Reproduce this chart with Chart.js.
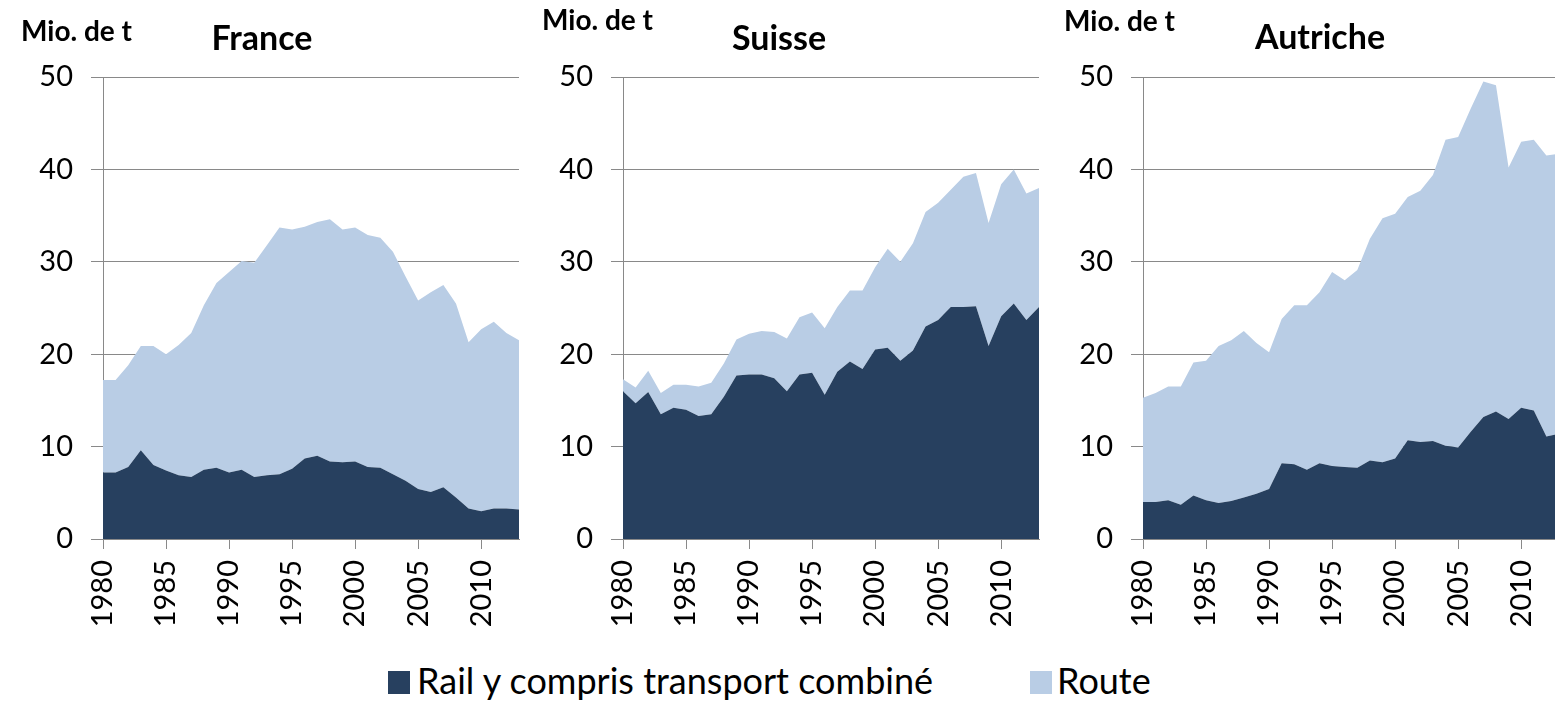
<!DOCTYPE html>
<html>
<head>
<meta charset="utf-8">
<script src="https://cdn.jsdelivr.net/npm/chart.js@4.4.1/dist/chart.umd.min.js"></script>
<style>
  body { margin: 0; width: 1555px; height: 702px; overflow: hidden; background: #fff; font-family: Lato, "Open Sans", sans-serif; position: relative; }
  .box { position: absolute; top: 0; width: 530px; height: 650px; }
  .unit, .title { position: absolute; font-weight: bold; color: #000; white-space: nowrap; }
  .unit { font-size: 28px; }
  .title { font-size: 34px; transform: translateX(-50%); }
  .legend { position: absolute; top: 658px; font-size: 36px; color: #000; white-space: nowrap; }
  .sw { position: absolute; width: 22px; height: 23px; }
</style>
</head>
<body>
<div class="box" style="left:0px"><canvas id="franceChart"></canvas></div>
<div class="box" style="left:520px"><canvas id="suisseChart"></canvas></div>
<div class="box" style="left:1040px"><canvas id="autricheChart"></canvas></div>

<div class="unit" style="left:21px; top:13px">Mio. de t</div>
<div class="title" style="left:262px; top:16px">France</div>
<div class="unit" style="left:542px; top:2px">Mio. de t</div>
<div class="title" style="left:779px; top:16px">Suisse</div>
<div class="unit" style="left:1064px; top:3px">Mio. de t</div>
<div class="title" style="left:1320px; top:15px">Autriche</div>

<div class="sw" style="left:388px; top:671px; background:#27405f"></div>
<div class="legend" style="left:417px">Rail y compris transport combiné</div>
<div class="sw" style="left:1030px; top:671px; background:#b9cde5"></div>
<div class="legend" style="left:1057px">Route</div>

<script>
const years = ['1980','1981','1982','1983','1984','1985','1986','1987','1988','1989',
  '1990','1991','1992','1993','1994','1995','1996','1997','1998','1999',
  '2000','2001','2002','2003','2004','2005','2006','2007','2008','2009',
  '2010','2011','2012','2013'];
const yTicks = [0, 10, 20, 30, 40, 50];

// France
const franceRail = [7.2,7.2,7.8,9.6,8.0,7.4,6.9,6.7,7.5,7.7,7.2,7.5,6.7,6.9,7.0,7.6,8.7,9.0,8.4,8.3,
  8.4,7.8,7.7,7.0,6.3,5.4,5.1,5.6,4.5,3.3,3.0,3.3,3.3,3.2];
const franceRoute = [10.0,10.0,11.0,11.3,12.9,12.6,14.1,15.6,17.8,20.0,21.7,22.6,23.2,24.9,26.7,25.9,25.1,25.3,26.2,25.2,
  25.3,25.1,24.9,24.1,22.1,20.4,21.6,21.9,21.0,18.0,19.7,20.2,19.0,18.3];

// Suisse
const suisseRail = [16.0,14.7,15.9,13.5,14.2,14.0,13.3,13.5,15.4,17.7,17.8,17.8,17.4,16.0,17.8,18.0,15.6,18.1,19.2,18.4,
  20.5,20.7,19.3,20.4,23.0,23.7,25.1,25.1,25.2,20.9,24.1,25.5,23.7,25.1];
const suisseRoute = [1.3,1.7,2.3,2.3,2.5,2.7,3.2,3.4,3.6,3.9,4.4,4.7,5.0,5.7,6.2,6.5,7.2,7.0,7.7,8.5,
  8.9,10.7,10.7,11.6,12.4,12.7,12.7,14.1,14.4,13.3,14.3,14.5,13.7,12.9];

// Autriche
const autricheRail = [4.0,4.0,4.2,3.7,4.7,4.2,3.9,4.1,4.5,4.9,5.4,8.2,8.1,7.5,8.2,7.9,7.8,7.7,8.5,8.3,
  8.7,10.7,10.5,10.6,10.1,9.9,11.6,13.2,13.8,13.0,14.2,13.9,11.1,11.4];
const autricheRoute = [11.3,11.8,12.3,12.8,14.4,15.1,17.0,17.4,18.0,16.3,14.8,15.6,17.2,17.8,18.5,21.0,20.2,21.4,24.0,26.4,
  26.5,26.3,27.2,28.8,33.1,33.6,35.0,36.3,35.3,27.2,28.8,29.3,30.4,30.3];

const railColor = '#27405f';
const routeColor = '#b9cde5';
const axisGray = '#898989';

Chart.defaults.font.family = 'Lato, "Open Sans", sans-serif';
Chart.defaults.color = '#000';

function makeChart(id, rail, route) {
  new Chart(document.getElementById(id), {
    type: 'line',
    data: {
      labels: years,
      datasets: [{
        label: 'Rail y compris transport combiné',
        data: rail,
        backgroundColor: railColor,
        borderWidth: 0,
        pointRadius: 0,
        fill: 'origin',
        tension: 0
      }, {
        label: 'Route',
        data: route,
        backgroundColor: routeColor,
        borderWidth: 0,
        pointRadius: 0,
        fill: '-1',
        tension: 0
      }]
    },
    options: {
      responsive: true,
      maintainAspectRatio: false,
      animation: false,
      layout: { padding: { top: 77, right: 11, left: 0, bottom: 0 } },
      plugins: { legend: { display: false }, tooltip: { enabled: false } },
      scales: {
        x: {
          offset: false,
          afterFit: (scale) => { scale.height = 111; },
          grid: { drawOnChartArea: false, drawTicks: true, tickLength: 10, color: axisGray },
          border: { color: axisGray, width: 1 },
          ticks: {
            autoSkip: false,
            minRotation: 90,
            maxRotation: 90,
            padding: 11,
            font: { size: 29 },
            callback: function (val) {
              const y = this.getLabelForValue(val);
              return Number(y) % 5 === 0 ? y : null;
            }
          }
        },
        y: {
          stacked: true,
          min: 0,
          max: 50,
          afterFit: (scale) => { scale.width = 103; },
          afterBuildTicks: (scale) => { scale.ticks = yTicks.map(v => ({ value: v })); },
          grid: { color: axisGray, tickLength: 12, lineWidth: 1 },
          border: { color: axisGray, width: 1 },
          ticks: { padding: 18, font: { size: 29 } }
        }
      }
    }
  });
}

makeChart('franceChart', franceRail, franceRoute);
makeChart('suisseChart', suisseRail, suisseRoute);
makeChart('autricheChart', autricheRail, autricheRoute);
</script>
</body>
</html>
